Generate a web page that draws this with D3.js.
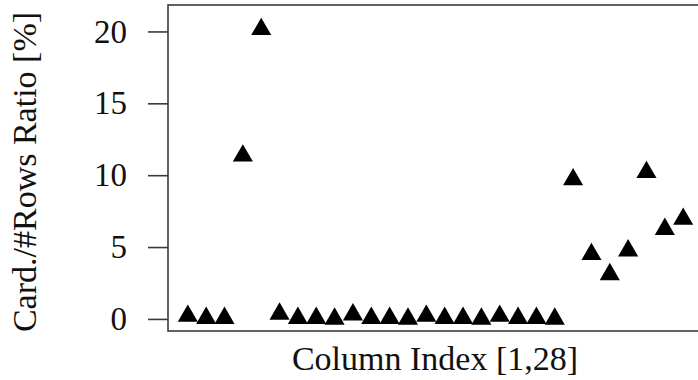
<!DOCTYPE html>
<html>
<head>
<meta charset="utf-8">
<script src="https://cdn.jsdelivr.net/npm/d3@7"></script>
<style>
  html, body { margin: 0; padding: 0; background: #fff; }
  svg { display: block; }
  text { font-family: "Liberation Serif", "DejaVu Serif", serif; fill: #111; }
</style>
</head>
<body>
<div id="chart"></div>
<script>
// column index 1..28 and their cardinality / #rows ratio in percent
const columns = d3.range(1, 29);
const ratios = [
  0.2, 0.05, 0.05, 11.35, 20.15, 0.35, 0.05, 0.05, 0.0, 0.3,
  0.05, 0.05, 0.0, 0.2, 0.05, 0.05, 0.0, 0.2, 0.05, 0.05,
  0.0, 9.7, 4.5, 3.1, 4.75, 10.2, 6.25, 6.95
];
const yTicks = [0, 5, 10, 15, 20];

const width = 698, height = 380;
// plot box (R style: limits padded by 4%)
const box = { left: 168, right: 703, top: 5, bottom: 331 };

const svg = d3.select('#chart')
  .append('svg')
  .attr('width', width)
  .attr('height', height);

const x = d3.scaleLinear()
  .domain([1 - 27 * 0.04, 28 + 27 * 0.04])
  .range([box.left, box.right]);

const y = d3.scaleLinear()
  .domain([0 - 21 * 0.04, 21 + 21 * 0.04])
  .range([box.bottom, box.top]);

// frame
svg.append('rect')
  .attr('x', box.left)
  .attr('y', box.top)
  .attr('width', box.right - box.left)
  .attr('height', box.bottom - box.top)
  .attr('fill', 'none')
  .attr('stroke', '#3a3a3a')
  .attr('stroke-width', 1.6);

// y axis
const yAxis = svg.append('g')
  .attr('transform', `translate(${box.left},0)`)
  .call(d3.axisLeft(y).tickValues(yTicks).tickSize(20).tickPadding(21).tickFormat(d3.format('d')));

yAxis.select('.domain').remove();
yAxis.selectAll('line')
  .attr('stroke', '#3a3a3a')
  .attr('stroke-width', 1.6);
yAxis.selectAll('text')
  .attr('font-family', '"Liberation Serif", serif')
  .attr('font-size', 33)
  .attr('fill', '#111');

// points
svg.append('g')
  .selectAll('path')
  .data(columns)
  .join('path')
  .attr('transform', (d, i) => `translate(${x(d)},${y(ratios[i])})`)
  .attr('d', d3.symbol(d3.symbolTriangle, 175))
  .attr('fill', '#000');

// axis titles
svg.append('text')
  .attr('x', 435)
  .attr('y', 370)
  .attr('text-anchor', 'middle')
  .attr('font-size', 34)
  .text('Column Index [1,28]');

svg.append('text')
  .attr('transform', 'translate(36,172) rotate(-90)')
  .attr('text-anchor', 'middle')
  .attr('font-size', 34)
  .text('Card./#Rows Ratio [%]');
</script>
</body>
</html>
